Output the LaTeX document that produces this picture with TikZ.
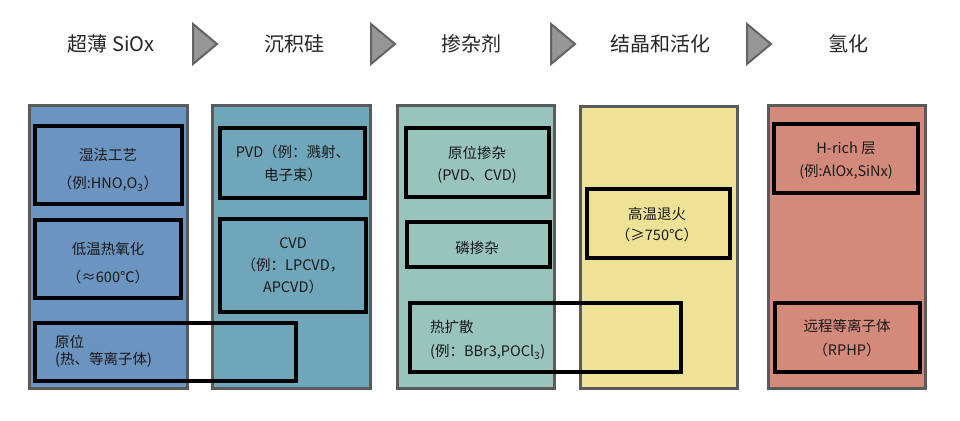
\documentclass[tikz,border=0pt]{standalone}
\usepackage{fontspec}
\setmainfont{Noto Sans CJK SC}
\usetikzlibrary{fit}
\definecolor{cA}{RGB}{108,148,192}
\definecolor{cB}{RGB}{112,166,185}
\definecolor{cC}{RGB}{152,196,188}
\definecolor{cD}{RGB}{238,226,150}
\definecolor{cE}{RGB}{212,138,122}
\definecolor{bgray}{RGB}{90,90,90}
\definecolor{trifill}{RGB}{150,150,150}
\definecolor{triline}{RGB}{100,100,100}
\begin{document}
\begin{tikzpicture}[x=1pt,y=-1pt,
  colbox/.style={draw=bgray, line width=3pt, inner sep=0pt},
  inbox/.style={draw=black, line width=3.4pt, inner sep=0pt},
  head/.style={font=\fontsize{20}{24}\selectfont, text=black!85},
  lbl/.style={align=center, inner sep=0pt, text=black!90},
  tri/.style={fill=trifill, draw=triline, line width=2pt, line join=miter}]
\useasboundingbox (0,0) rectangle (960,420);
% headers
\node[head] (h1) at (111,44) {超薄 SiOx};
\node[head] (h2) at (294,44) {沉积硅};
\node[head] (h3) at (471,44) {掺杂剂};
\node[head] (h4) at (660,44) {结晶和活化};
\node[head] (h5) at (848,44) {氢化};
% triangles
\draw[tri] (193,24) -- (217,44) -- (193,64) -- cycle;
\draw[tri] (371,24) -- (395,44) -- (371,64) -- cycle;
\draw[tri] (551,24) -- (575,44) -- (551,64) -- cycle;
\draw[tri] (747,24) -- (771,44) -- (747,64) -- cycle;
% columns
\node[colbox, fill=cA, fit={(29,105) (187,388)}] (c1) {};
\node[colbox, fill=cB, fit={(212,105) (370,388)}] (c2) {};
\node[colbox, fill=cC, fit={(397,105) (554,388)}] (c3) {};
\node[colbox, fill=cD, fit={(580,106) (737,388)}] (c4) {};
\node[colbox, fill=cE, fit={(768,105) (925,388)}] (c5) {};
% inner boxes
\node[inbox, fit={(35,126) (182,204)}] (a1) {};
\node[inbox, fit={(35,220) (181,298)}] (a2) {};
\node[inbox, fit={(35,323) (296,381)}] (a3) {};
\node[inbox, fit={(220,128) (365,198)}] (b1) {};
\node[inbox, fit={(220,219) (366,312)}] (b2) {};
\node[inbox, fit={(406,128) (549,197)}] (d1) {};
\node[inbox, fit={(407,222) (550,267)}] (d2) {};
\node[inbox, fit={(410,303) (681,372)}] (d3) {};
\node[inbox, fit={(587,189) (730,258)}] (e1) {};
\node[inbox, fit={(774,124) (918,193)}] (f1) {};
\node[inbox, fit={(775,303) (920,372)}] (f2) {};
% texts
\node[lbl, font=\fontsize{14.5}{28}\selectfont] (ta1) at (108,170) {湿法工艺\\（例:HNO,O\textsubscript{3}）};
\node[lbl, font=\fontsize{14.5}{28}\selectfont] (ta2) at (108,263) {低温热氧化\\（≈600℃）};
\node[lbl, align=left, anchor=west, font=\fontsize{14.5}{17}\selectfont] (ta3) at (55,351.5) {原位\\(热、等离子体)};
\node[lbl, font=\fontsize{14.5}{23}\selectfont] (tb1) at (293,163) {PVD（例：溅射、\\电子束）};
\node[lbl, font=\fontsize{14.5}{22}\selectfont] (tb2) at (293,266) {CVD\\（例：LPCVD，\\APCVD）};
\node[lbl, font=\fontsize{14.5}{22}\selectfont] (td1) at (477,165) {原位掺杂\\(PVD、CVD)};
\node[lbl, font=\fontsize{14.5}{22}\selectfont] (td2) at (477,248) {磷掺杂};
\node[lbl, align=left, anchor=west, font=\fontsize{14.5}{24}\selectfont] (td3) at (430,340) {热扩散\\(例：BBr3,POCl\textsubscript{3})};
\node[lbl, font=\fontsize{14.5}{21}\selectfont] (te1) at (657,224.5) {高温退火\\（≥750℃）};
\node[lbl, font=\fontsize{14.5}{23}\selectfont] (tf1) at (846,160.5) {H-rich 层\\(例:AlOx,SiNx)};
\node[lbl, font=\fontsize{14.5}{24}\selectfont] (tf2) at (847,338) {远程等离子体\\（RPHP）};
\end{tikzpicture}
\end{document}
